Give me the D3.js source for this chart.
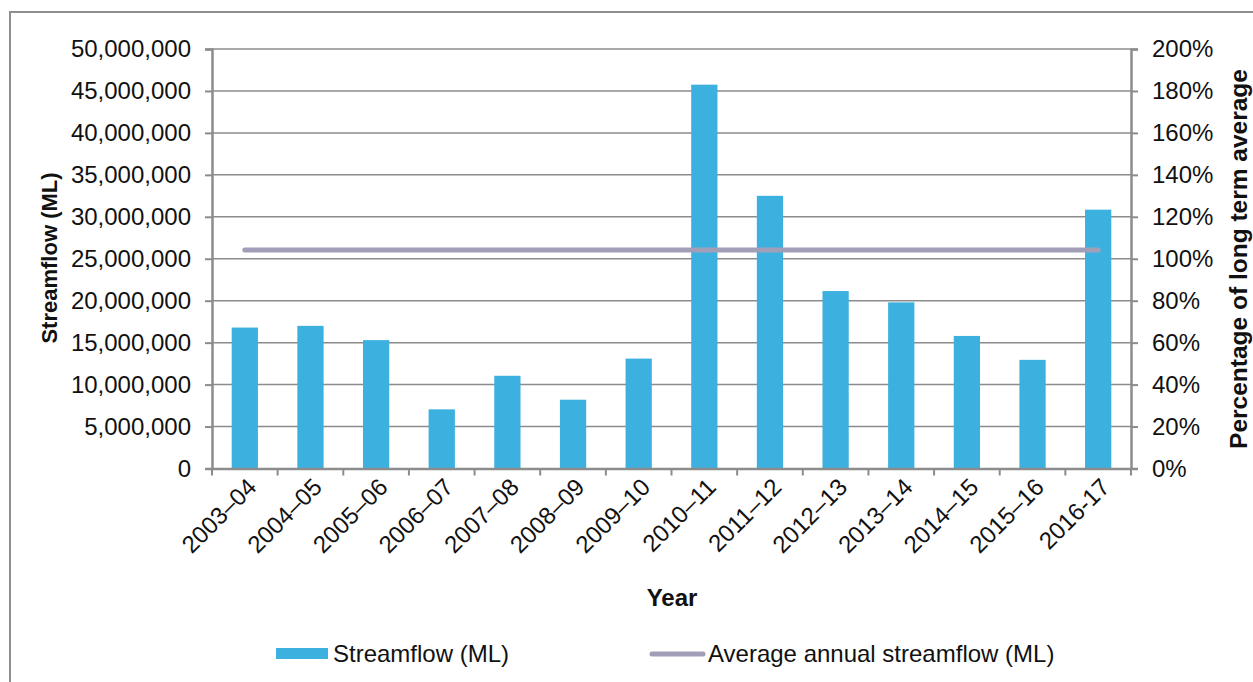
<!DOCTYPE html>
<html>
<head>
<meta charset="utf-8">
<script src="https://cdn.jsdelivr.net/npm/d3@7"></script>
<style>
  html, body { margin: 0; padding: 0; background: #fff; }
  svg { display: block; font-family: "Liberation Sans", Arial, sans-serif; }
</style>
</head>
<body>
<svg id="chart" width="1253" height="682"></svg>
<script>
const years = ["2003–04","2004–05","2005–06","2006–07","2007–08","2008–09","2009–10","2010–11","2011–12","2012–13","2013–14","2014–15","2015–16","2016-17"];
const streamflow = [16800000, 17000000, 15300000, 7050000, 11050000, 8200000, 13100000, 45750000, 32500000, 21150000, 19800000, 15800000, 12950000, 30850000];
const averageAnnual = 26050000;
const leftTicks = [0, 5000000, 10000000, 15000000, 20000000, 25000000, 30000000, 35000000, 40000000, 45000000, 50000000];
const rightTicks = [0, 0.2, 0.4, 0.6, 0.8, 1.0, 1.2, 1.4, 1.6, 1.8, 2.0];

(function () {
const svg = d3.select("#chart");
const mLeft = 212, mRight = 1131, mTop = 49, mBottom = 468.5;
const gridColor = "#8c8c8c";
const barColor = "#3cb0df";
const lineColor = "#a19fb7";

// outer frame (partially cut)
svg.append("rect").attr("x", 10).attr("y", 12).attr("width", 1300).attr("height", 700)
  .attr("fill", "none").attr("stroke", "#8f8f8f").attr("stroke-width", 2);

const xOuter = d3.scaleBand().domain(years).range([mLeft, mRight]);
const y = d3.scaleLinear().domain([0, 50000000]).range([mBottom, mTop]);
const y2 = d3.scaleLinear().domain([0, 2]).range([mBottom, mTop]);

// gridlines
svg.append("g").selectAll("line").data(leftTicks.slice(1)).join("line")
  .attr("x1", mLeft).attr("x2", mRight)
  .attr("y1", d => y(d)).attr("y2", d => y(d))
  .attr("stroke", gridColor).attr("stroke-width", 1.5);

// bars
svg.append("g").selectAll("rect").data(streamflow).join("rect")
  .attr("x", (d, i) => xOuter(years[i]) + xOuter.bandwidth() * 0.3)
  .attr("width", xOuter.bandwidth() * 0.4)
  .attr("y", d => y(d))
  .attr("height", d => y(0) - y(d))
  .attr("fill", barColor);

// average line
const cx = d => xOuter(d) + xOuter.bandwidth() / 2;
svg.append("path")
  .datum(years)
  .attr("d", d3.line().x(d => cx(d)).y(() => y(averageAnnual)))
  .attr("fill", "none").attr("stroke", lineColor).attr("stroke-width", 5).attr("stroke-linecap", "round");

// left axis
const fmt = d3.format(",");
const gL = svg.append("g").attr("transform", `translate(${mLeft},0)`)
  .call(d3.axisLeft(y).tickValues(leftTicks).tickFormat(d => fmt(d)).tickSize(7).tickPadding(14));
// right axis
const gR = svg.append("g").attr("transform", `translate(${mRight},0)`)
  .call(d3.axisRight(y2).tickValues(rightTicks).tickFormat(d3.format(".0%")).tickSize(7).tickPadding(14));
// bottom axis
const gB = svg.append("g").attr("transform", `translate(0,${mBottom})`)
  .call(d3.axisBottom(xOuter).tickSize(0).tickFormat(d => d));

[gL, gR, gB].forEach(g => {
  g.select(".domain").attr("stroke", gridColor).attr("stroke-width", 2.5);
  g.selectAll(".tick line").attr("stroke", gridColor).attr("stroke-width", 2);
  g.selectAll("text").attr("font-size", 24).attr("fill", "#111").attr("font-family", "Liberation Sans, Arial, sans-serif");
});

// bottom category boundary ticks
svg.append("g").selectAll("line").data(years.concat(["__end"])).join("line")
  .attr("x1", (d, i) => i < years.length ? xOuter(d) : mRight)
  .attr("x2", (d, i) => i < years.length ? xOuter(d) : mRight)
  .attr("y1", mBottom).attr("y2", mBottom + 7)
  .attr("stroke", gridColor).attr("stroke-width", 2);

gB.selectAll(".tick text")
  .attr("text-anchor", "end")
  .attr("dy", 0).attr("y", 0)
  .attr("transform", "translate(13,20) rotate(-45)");

// axis titles
svg.append("text").attr("transform", `translate(57,258) rotate(-90)`)
  .attr("text-anchor", "middle").attr("font-weight", "bold").attr("font-size", 22)
  .attr("fill", "#111").text("Streamflow (ML)");
svg.append("text").attr("transform", `translate(1247,259) rotate(-90)`)
  .attr("text-anchor", "middle").attr("font-weight", "bold").attr("font-size", 24.5)
  .attr("fill", "#111").text("Percentage of long term average");
svg.append("text").attr("x", 672).attr("y", 606)
  .attr("text-anchor", "middle").attr("font-weight", "bold").attr("font-size", 24)
  .attr("fill", "#111").text("Year");

// legend
const lg = svg.append("g");
lg.append("rect").attr("x", 276).attr("y", 648).attr("width", 52).attr("height", 11).attr("fill", barColor);
lg.append("text").attr("x", 333).attr("y", 662).attr("font-size", 24).attr("fill", "#111").text("Streamflow (ML)");
lg.append("line").attr("x1", 652).attr("x2", 703).attr("y1", 654).attr("y2", 654)
  .attr("stroke", lineColor).attr("stroke-width", 5).attr("stroke-linecap", "round");
lg.append("text").attr("x", 708).attr("y", 662).attr("font-size", 24).attr("fill", "#111").text("Average annual streamflow (ML)");
})();
</script>
</body>
</html>
